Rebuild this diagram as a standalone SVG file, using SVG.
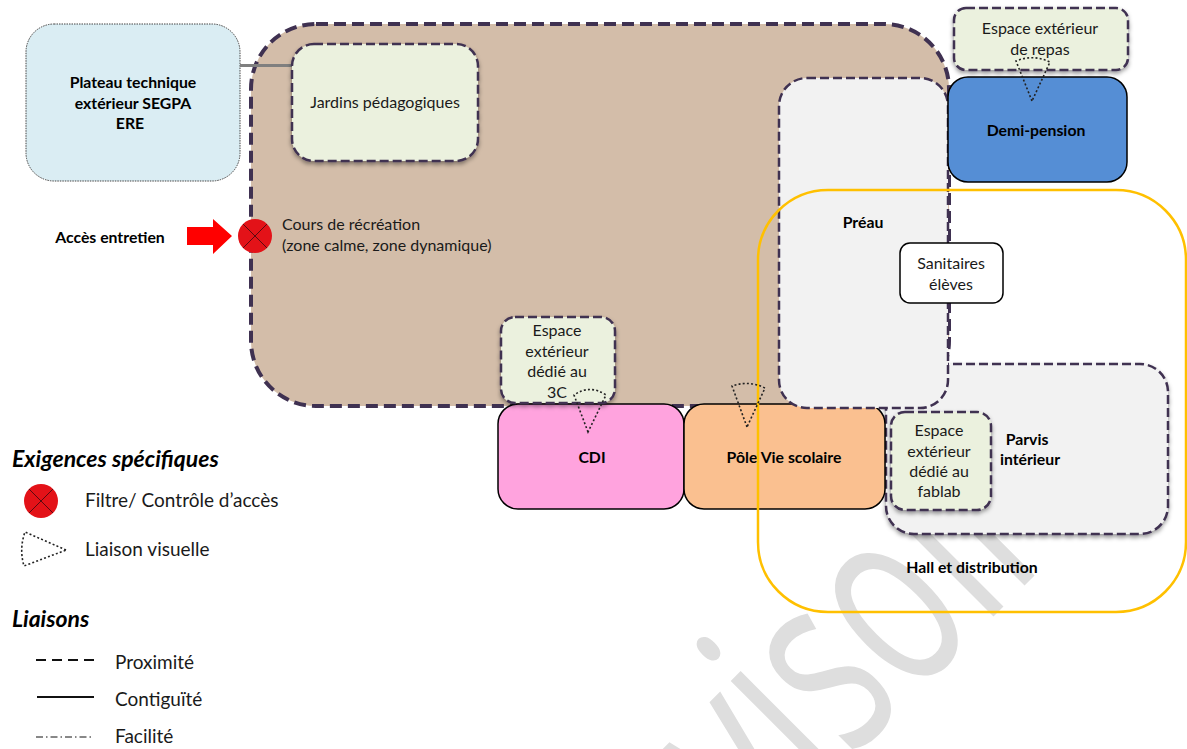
<svg xmlns="http://www.w3.org/2000/svg" width="1187" height="749" viewBox="0 0 1187 749">
<style>
text{font-family:Lato,"Liberation Sans",sans-serif;fill:#1a1a1a;font-size:16px;text-anchor:middle}
.b{font-weight:700;font-size:15.800px;fill:#000}
.l{text-anchor:start}
.f{font-size:19px;text-anchor:start}
.h{font-weight:700;font-style:italic;font-size:23px;text-anchor:start;fill:#000}
.d{stroke:#3f3151;stroke-width:2.5;stroke-dasharray:9 4}
.g{fill:#ebf1de;filter:url(#s)}
.s{stroke:#000;stroke-width:1.5}
.v{fill:none;stroke:#222;stroke-width:1.6;stroke-dasharray:2 2.2}
.x{stroke:#5a0a10;stroke-width:1}
.wm{font-family:"Open Sans",sans-serif;font-weight:400;font-size:262px;fill:#dedede;text-anchor:start}
</style>
<defs><filter id="s" x="-10%" y="-10%" width="120%" height="125%"><feDropShadow dx="0" dy="2.500" stdDeviation="2" flood-color="#000" flood-opacity=".4"/></filter></defs>
<rect width="1187" height="749" fill="#fff"/>
<text class="wm" transform="translate(977 633) rotate(-45) scale(.664 1) translate(-889 0)">Provisoire</text>
<g id="cours"><rect x="251" y="24" width="698" height="382" rx="65" fill="#d3bda9" stroke="#3f3151" stroke-width="4" stroke-dasharray="12 6"/><text class="l" x="282" y="230">Cours de récréation</text><text class="l" x="282" y="251">(zone calme, zone dynamique)</text></g>
<g id="plateau"><rect x="26" y="24" width="214" height="157" rx="28" fill="#daedf3" stroke="#444" stroke-width="1" stroke-dasharray="1.500 1"/><text class="b" x="133" y="88">Plateau technique</text><text class="b" x="133" y="109">extérieur SEGPA</text><text class="b" x="130" y="129">ERE</text></g>
<g id="connectors"><line x1="240" y1="65.500" x2="292" y2="65.500" stroke="#7f7f7f" stroke-width="3"/></g>
<g id="jardins"><rect class="g d" x="292" y="44" width="186" height="117" rx="22"/><text x="385" y="108">Jardins pédagogiques</text></g>
<g id="parvis"><rect x="886" y="364" width="282" height="170" rx="28" fill="#f2f2f2" class="d" filter="url(#s)"/><text class="b" x="1027" y="445">Parvis</text><text class="b" x="1030" y="465">intérieur</text></g>
<g id="cdi"><rect class="s" x="498" y="404" width="186" height="105" rx="20" fill="#ffa3de"/><text class="b" x="592" y="463">CDI</text></g>
<g id="vie"><rect class="s" x="684" y="404" width="201" height="105" rx="20" fill="#fac090"/><text class="b" x="784" y="463">Pôle Vie scolaire</text></g>
<g id="preau"><rect x="779" y="78" width="169" height="330" rx="28" fill="#f2f2f2" class="d"/><text class="b" x="863" y="228">Préau</text></g>
<g id="demi"><rect class="s" x="948" y="77" width="179" height="105" rx="20" fill="#558ed5"/><text class="b" x="1036" y="136">Demi-pension</text></g>
<g id="repas"><rect class="g d" x="954" y="8" width="174" height="62" rx="12"/><text x="1040" y="34">Espace extérieur</text><text x="1040" y="55">de repas</text></g>
<g id="e3c"><rect class="g d" x="501" y="317" width="114" height="86" rx="14"/><text x="557" y="336">Espace</text><text x="557" y="357">extérieur</text><text x="557" y="377">dédié au</text><text x="557" y="398">3C</text></g>
<g id="fablab"><rect class="g d" x="891" y="412" width="100" height="98" rx="14"/><text x="939" y="436">Espace</text><text x="939" y="457">extérieur</text><text x="939" y="477">dédié au</text><text x="939" y="497">fablab</text></g>
<g id="hall"><rect x="758" y="190" width="428" height="422" rx="70" fill="none" stroke="#ffc000" stroke-width="2.500"/><text class="b" x="972" y="573">Hall et distribution</text></g>
<g id="sanitaires"><rect class="s" x="900" y="243" width="103" height="60" rx="10" fill="#fff"/><text x="951" y="269">Sanitaires</text><text x="951" y="290">élèves</text></g>
<g id="vues"><path class="v" d="M588 432 574 395Q590 384 606 395Z"/><path class="v" d="M747 427 732 386Q749 380 765 388Z"/><path class="v" d="M1032 101 1016 61Q1033 54 1050 62Z"/></g>
<g id="acces"><text class="b" x="110" y="243">Accès entretien</text><path d="M187 227H213V219L232 236 213 254V245H187Z" fill="#f00"/><circle cx="255" cy="236" r="17" fill="#e31218"/><path class="x" d="M243 224 267 248M267 224 243 248"/></g>
<g id="legend">
<text class="h" x="12" y="467">Exigences spécifiques</text>
<circle cx="41" cy="501" r="17" fill="#e31218"/><path class="x" d="M29 489 53 513M53 489 29 513"/><text class="f" x="85" y="507">Filtre/ Contrôle d’accès</text>
<path class="v" d="M66 550 25 532Q19 549 24 566Z"/><text class="f" x="85" y="556">Liaison visuelle</text>
<text class="h" x="12" y="627">Liaisons</text>
<line x1="36" y1="660" x2="94" y2="660" stroke="#111" stroke-width="2" stroke-dasharray="10 6"/><text class="f" x="115" y="669">Proximité</text>
<line x1="37" y1="697" x2="94" y2="697" stroke="#111" stroke-width="2"/><text class="f" x="115" y="706">Contiguïté</text>
<line x1="36" y1="737" x2="94" y2="737" stroke="#111" stroke-width="1" stroke-dasharray="7 3 1.500 3"/><text class="f" x="115" y="743">Facilité</text>
</g>
</svg>
